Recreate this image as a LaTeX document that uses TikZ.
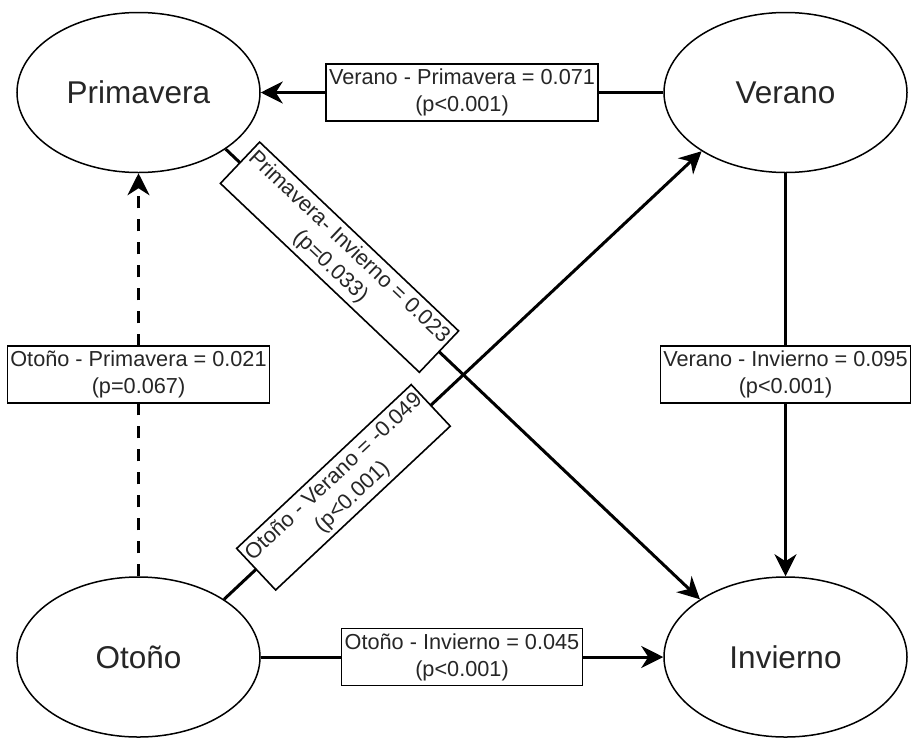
\documentclass[tikz,border=0pt]{standalone}
\usepackage{fontspec}
\setmainfont{Liberation Sans}
\usetikzlibrary{shapes.geometric,arrows.meta}
\begin{document}
\begin{tikzpicture}[x=1pt,y=-1pt,
  season/.style={ellipse,draw,line width=1.5pt,minimum width=243pt,minimum height=160pt,inner sep=0pt,text=black!85,font=\fontsize{31.5}{36}\selectfont},
  rel/.style={line width=3pt,-{Stealth[length=22pt,width=22pt,inset=7pt]}},
  lbl/.style={draw,solid,fill=white,line width=1.6pt,align=center,inner xsep=3pt,inner ysep=0pt,minimum height=57pt,text=black!85,font=\fontsize{21.7}{27}\selectfont}]
\useasboundingbox (0,0) rectangle (917,737);
\node[season] (P) at (138.5,92.5) {Primavera};
\node[season] (V) at (785.5,92.5) {Verano};
\node[season] (O) at (138.5,657) {Otoño};
\node[season] (I) at (785.5,657) {Invierno};
\draw[rel] (V.west) -- node[lbl]{Verano - Primavera = 0.071\\(p<0.001)} (P.east);
\draw[rel] (V.south) -- node[lbl]{Verano - Invierno = 0.095\\(p<0.001)} (I.north);
\draw[rel,dash pattern=on 12pt off 11pt] (O.north) -- node[lbl]{Otoño - Primavera = 0.021\\(p=0.067)} (P.south);
\draw[rel] (O.east) -- node[lbl]{Otoño - Invierno = 0.045\\(p<0.001)} (I.west);
\draw[rel] (P.-33) -- node[lbl,sloped,pos=0.24]{Primavera- Invierno = 0.023\\(p=0.033)} (I.146.8);
\draw[rel] (O.34) -- node[lbl,sloped,pos=0.25]{Otoño - Verano = -0.049\\(p<0.001)} (V.-145.8);
\end{tikzpicture}
\end{document}
